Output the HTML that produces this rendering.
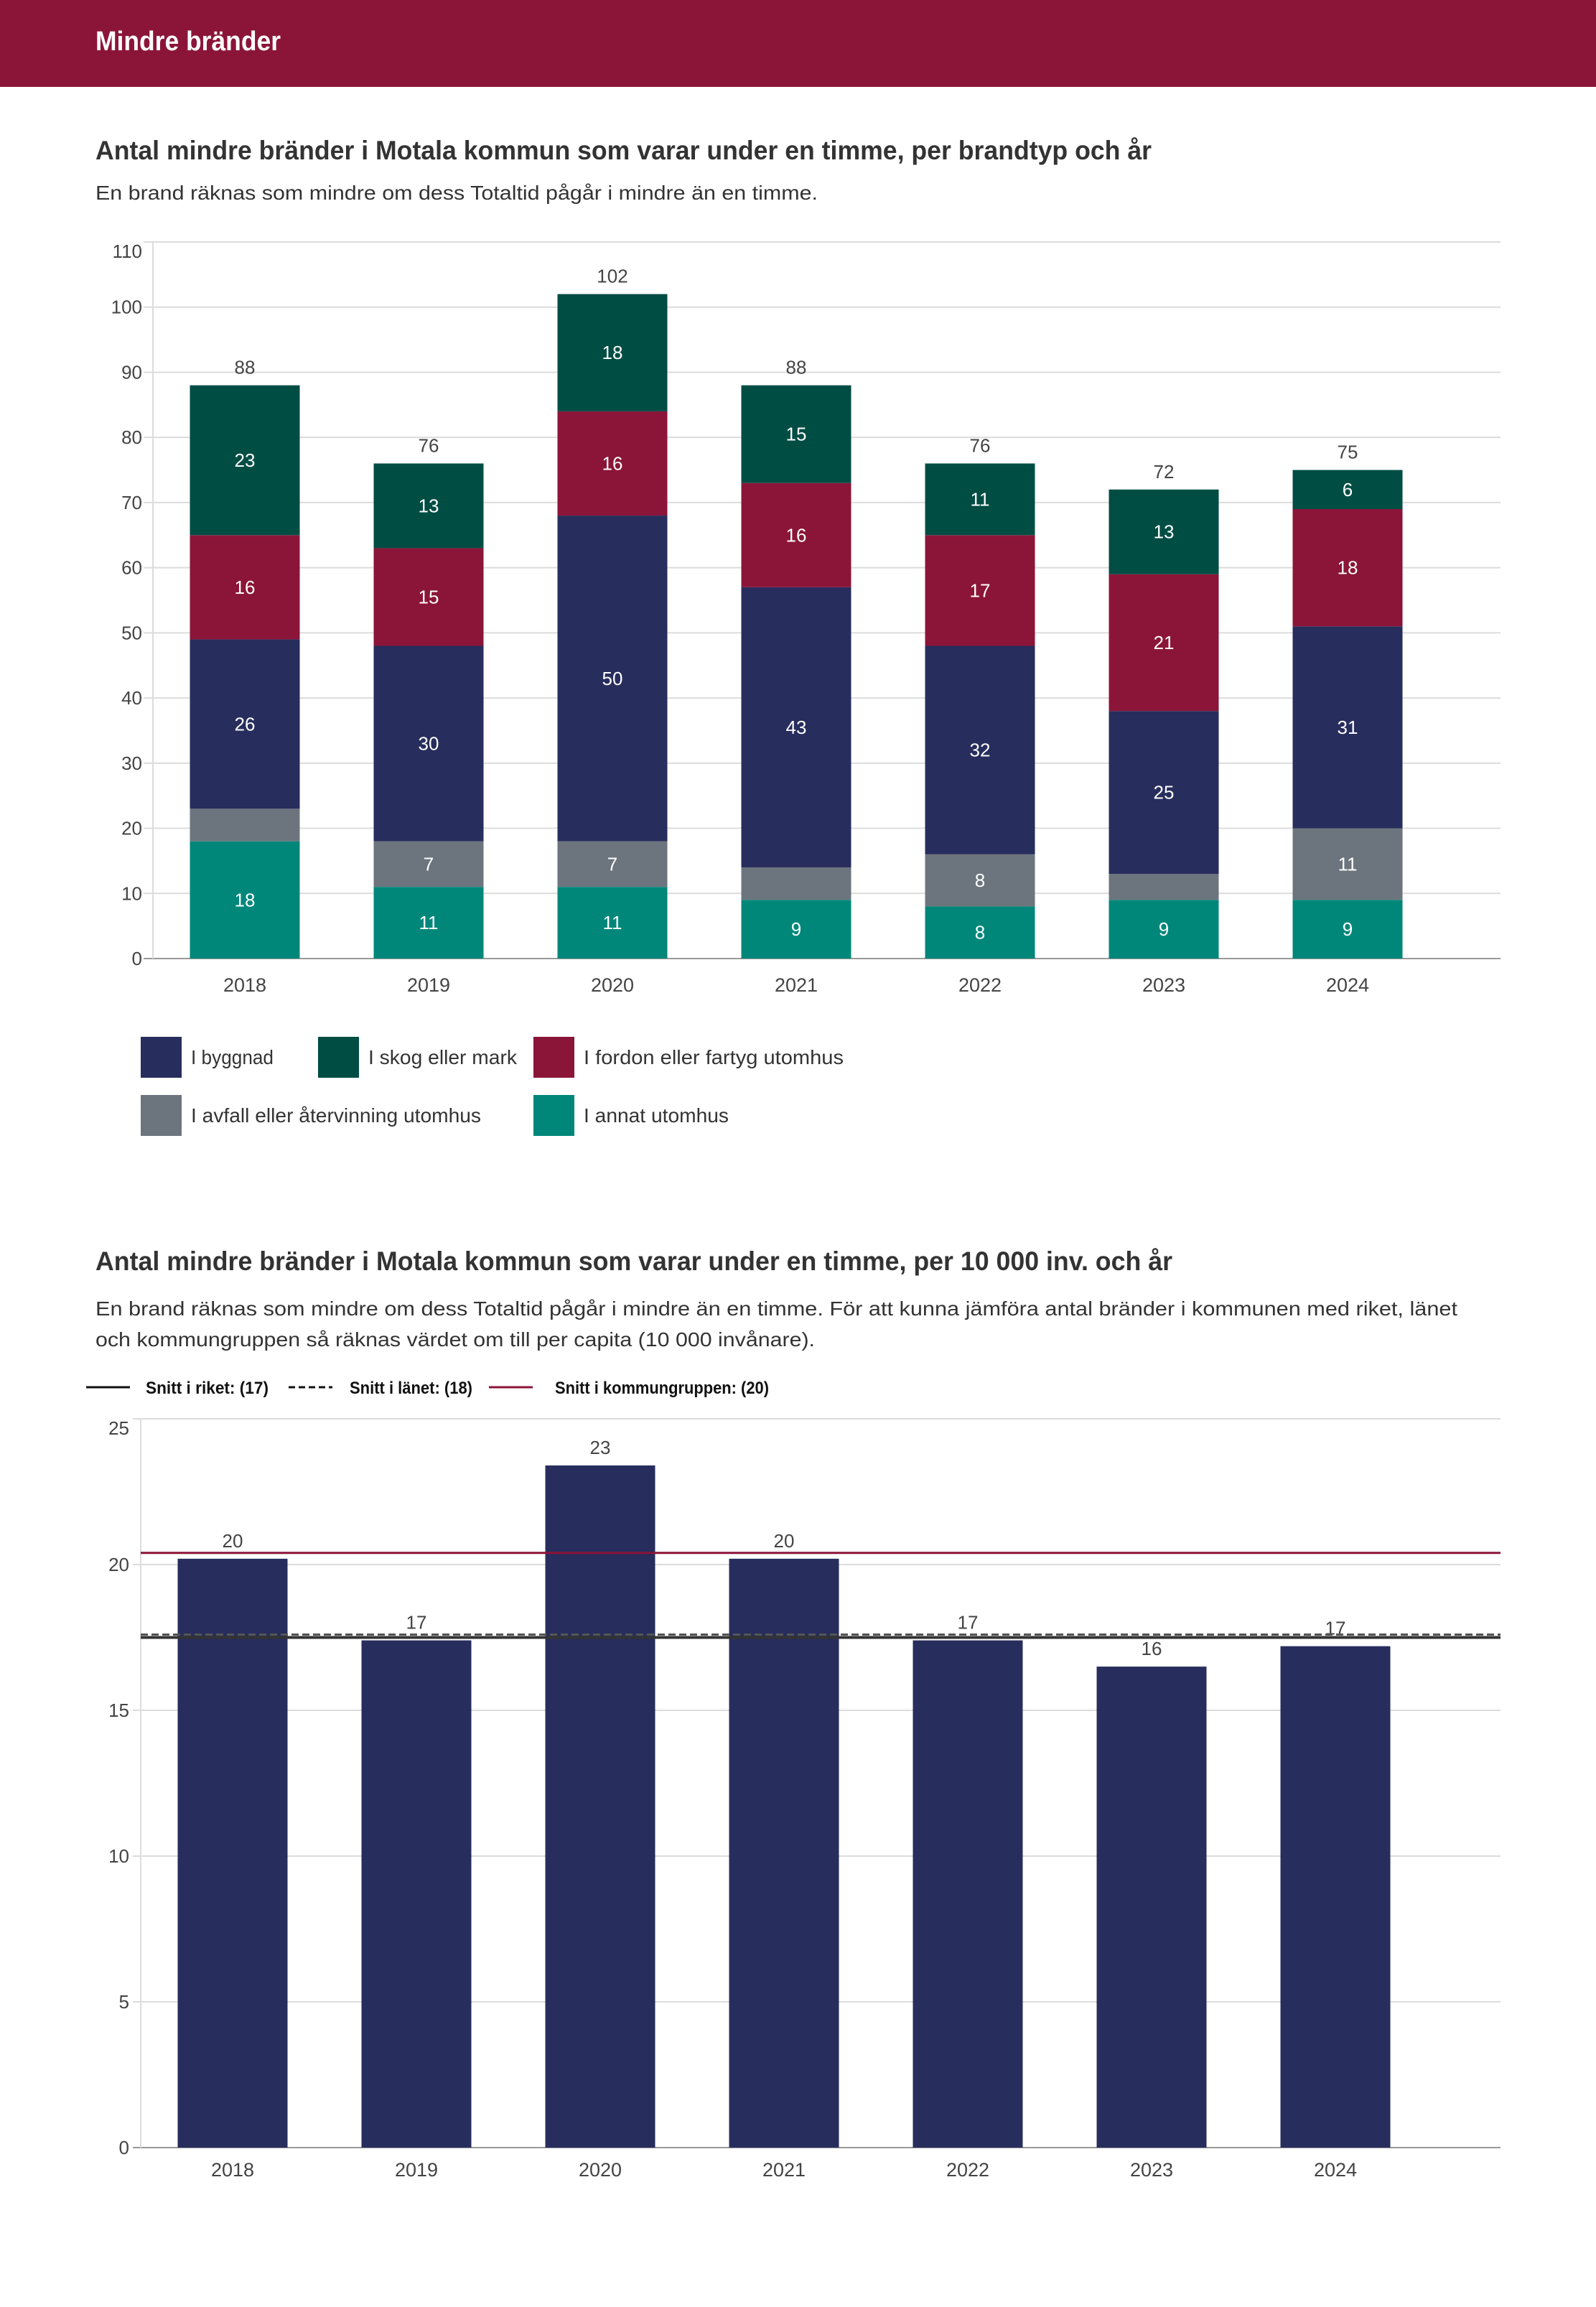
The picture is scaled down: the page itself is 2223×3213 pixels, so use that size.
<!DOCTYPE html>
<html><head><meta charset="utf-8">
<style>
html,body{margin:0;padding:0;background:#fff;}
svg{display:block;font-family:"Liberation Sans",sans-serif;}
</style></head>
<body>
<svg id="page" width="2223" height="3213" viewBox="0 0 2223 3213" xmlns="http://www.w3.org/2000/svg">
<rect x="0" y="0" width="2223" height="121" fill="#8B1538"/>
<text x="133" y="70" fill="#fff" font-size="38" font-weight="bold" textLength="258" lengthAdjust="spacingAndGlyphs">Mindre bränder</text>

<text x="133" y="222" fill="#333" font-size="37" font-weight="bold" textLength="1471" lengthAdjust="spacingAndGlyphs">Antal mindre bränder i Motala kommun som varar under en timme, per brandtyp och år</text>
<text x="133" y="278" fill="#333" font-size="28" textLength="1006" lengthAdjust="spacingAndGlyphs">En brand räknas som mindre om dess Totaltid pågår i mindre än en timme.</text>
<g id="chart1"></g>
<g id="legend1"></g>

<text x="133" y="1769" fill="#333" font-size="37" font-weight="bold" textLength="1500" lengthAdjust="spacingAndGlyphs">Antal mindre bränder i Motala kommun som varar under en timme, per 10 000 inv. och år</text>
<text x="133" y="1832" fill="#333" font-size="28" textLength="1897" lengthAdjust="spacingAndGlyphs">En brand räknas som mindre om dess Totaltid pågår i mindre än en timme. För att kunna jämföra antal bränder i kommunen med riket, länet</text>
<text x="133" y="1875" fill="#333" font-size="28" textLength="1002" lengthAdjust="spacingAndGlyphs">och kommungruppen så räknas värdet om till per capita (10 000 invånare).</text>
<g id="legend2"></g>
<g id="chart2"></g>
</svg>
<script>
var NS="http://www.w3.org/2000/svg";
var years=["2018","2019","2020","2021","2022","2023","2024"];
var annat=[18,11,11,9,8,9,9];
var avfall=[5,7,7,5,8,4,11];
var byggnad=[26,30,50,43,32,25,31];
var fordon=[16,15,16,16,17,21,18];
var skog=[23,13,18,15,11,13,6];
var yTicks1=[0,10,20,30,40,50,60,70,80,90,100,110];
var perCapita=[20.2,17.4,23.4,20.2,17.4,16.5,17.2];
var perCapitaLabels=["20","17","23","20","17","16","17"];
var yTicks2=[0,5,10,15,20,25];
var riket=17.5, lanet=17.6, kommungrupp=20.4;

function mk(tag,attrs,parent,txt){var e=document.createElementNS(NS,tag);for(var k in attrs)e.setAttribute(k,attrs[k]);if(txt!==undefined)e.textContent=txt;parent.appendChild(e);return e;}

// chart 1
var c1=document.getElementById('chart1');
function y1(v){return 1335-v*(998/110);}
function x1(i){return 341+256*i;}
var bw=153;
yTicks1.forEach(function(t,k){
  var g=mk('line',{x1:200,x2:2090,y1:y1(t),y2:y1(t),stroke:t===0?'#999':'#dcdcdc','stroke-width':2},c1);
  
  
  var off=(k===yTicks1.length-1)?22:9;
  var l=mk('text',{x:198,y:y1(t)+off,'text-anchor':'end','font-size':26,fill:'#444'},c1,String(t));
  
  
});
var ax=mk('line',{x1:213,x2:213,y1:y1(110),y2:y1(0),stroke:'#dcdcdc','stroke-width':2},c1);


var series=[{n:'annat',v:annat,c:'#00877A'},{n:'avfall',v:avfall,c:'#6C757D'},{n:'byggnad',v:byggnad,c:'#272D5C'},{n:'fordon',v:fordon,c:'#8B1538'},{n:'skog',v:skog,c:'#004D44'}];
years.forEach(function(yr,i){
  var base=0;
  series.forEach(function(s){
    var v=s.v[i];
    var r=mk('rect',{x:x1(i)-bw/2,y:y1(base+v),width:bw,height:y1(base)-y1(base+v),fill:s.c},c1);
    
    
    if(v>=6){
      var t=mk('text',{x:x1(i),y:(y1(base)+y1(base+v))/2+9,'text-anchor':'middle','font-size':26,fill:'#fff'},c1,String(v));
      
      
    }
    base+=v;
  });
  var tl=mk('text',{x:x1(i),y:y1(base)-16,'text-anchor':'middle','font-size':26,fill:'#444'},c1,String(base));
  
  
  var xl=mk('text',{x:x1(i),y:1381,'text-anchor':'middle','font-size':27,fill:'#444'},c1,yr);
  
  
});

// legend 1
var lg=document.getElementById('legend1');
var leg=[{t:'I byggnad',c:'#272D5C',x:196,y:1444,w:115},{t:'I skog eller mark',c:'#004D44',x:443,y:1444,w:207},{t:'I fordon eller fartyg utomhus',c:'#8B1538',x:743,y:1444,w:362},{t:'I avfall eller återvinning utomhus',c:'#6C757D',x:196,y:1525,w:404},{t:'I annat utomhus',c:'#00877A',x:743,y:1525,w:202}];
leg.forEach(function(e){
  var r=mk('rect',{x:e.x,y:e.y,width:57,height:57,fill:e.c},lg);
  
  
  var t=mk('text',{x:e.x+70,y:e.y+38,'font-size':28,fill:'#333',textLength:e.w,lengthAdjust:'spacingAndGlyphs'},lg,e.t);
  
  
});

// legend 2
var lg2=document.getElementById('legend2');
var l2=[{t:'Snitt i riket: (17)',x:120,tx:203,w:171,c:'#111',d:''},{t:'Snitt i länet: (18)',x:402,tx:487,w:171,c:'#111',d:'9,5'},{t:'Snitt i kommungruppen: (20)',x:681,tx:773,w:298,c:'#8B1538',d:''}];
l2.forEach(function(e){
  var a={x1:e.x,x2:e.x+61,y1:1932,y2:1932,stroke:e.c,'stroke-width':3};
  if(e.d)a['stroke-dasharray']=e.d;
  var ln=mk('line',a,lg2);
  
  
  var t=mk('text',{x:e.tx,y:1941,'font-size':24,'font-weight':'bold',fill:'#111',textLength:e.w,lengthAdjust:'spacingAndGlyphs'},lg2,e.t);
  
  
});

// chart 2
var c2=document.getElementById('chart2');
function y2(v){return 2991-v*(1015/25);}
function x2(i){return 324+256*i;}
yTicks2.forEach(function(t,k){
  var g=mk('line',{x1:185,x2:2090,y1:y2(t),y2:y2(t),stroke:t===0?'#999':'#dcdcdc','stroke-width':2},c2);
  
  
  var off=(k===yTicks2.length-1)?22:9;
  var l=mk('text',{x:180,y:y2(t)+off,'text-anchor':'end','font-size':26,fill:'#444'},c2,String(t));
  
  
});
var ax2=mk('line',{x1:196,x2:196,y1:y2(25),y2:y2(0),stroke:'#dcdcdc','stroke-width':2},c2);


years.forEach(function(yr,i){
  var v=perCapita[i];
  var r=mk('rect',{x:x2(i)-bw/2,y:y2(v),width:bw,height:y2(0)-y2(v),fill:'#272D5C'},c2);
  
  
  var t=mk('text',{x:x2(i),y:y2(v)-16,'text-anchor':'middle','font-size':26,fill:'#444'},c2,perCapitaLabels[i]);
  
  
  var xl=mk('text',{x:x2(i),y:3031,'text-anchor':'middle','font-size':27,fill:'#444'},c2,yr);
  
  
});
var rl=mk('line',{x1:196,x2:2090,y1:y2(riket),y2:y2(riket),stroke:'#333','stroke-width':4},c2);


var ll=mk('line',{x1:196,x2:2090,y1:y2(lanet),y2:y2(lanet),stroke:'#555','stroke-width':3,'stroke-dasharray':'10,5'},c2);


var kl=mk('line',{x1:196,x2:2090,y1:y2(kommungrupp),y2:y2(kommungrupp),stroke:'#8B1538','stroke-width':3},c2);


</script>
</body></html>
